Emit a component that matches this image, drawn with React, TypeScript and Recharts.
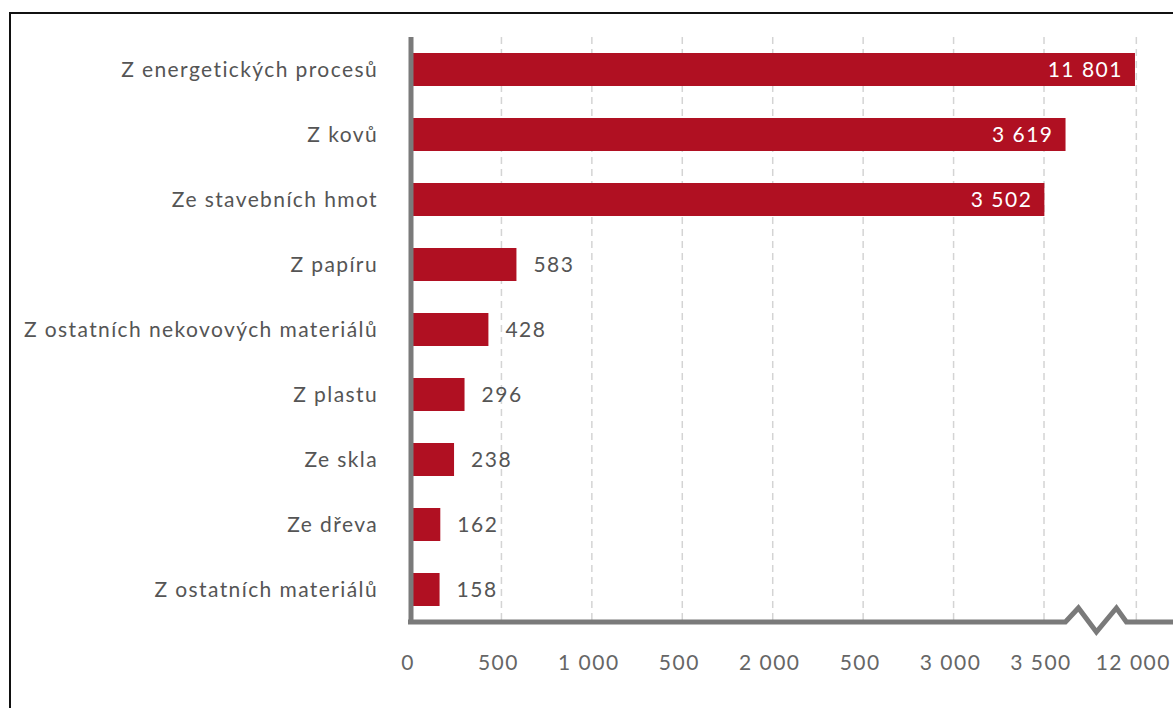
import { BarChart, Bar, XAxis, YAxis, CartesianGrid, LabelList, ReferenceLine } from "recharts";

// Zdroje emisí
const categories = [
  "Z energetických procesů",
  "Z kovů",
  "Ze stavebních hmot",
  "Z papíru",
  "Z ostatních nekovových materiálů",
  "Z plastu",
  "Ze skla",
  "Ze dřeva",
  "Z ostatních materiálů",
];
const values = [11801, 3619, 3502, 583, 428, 296, 238, 162, 158];

// osa X s přerušením: lineárně do 3 700, nad tím stlačeno
const tickValues = [0, 500, 1000, 1500, 2000, 2500, 3000, 3500, 12000];
const tickLabels = ["0", "500", "1 000", "500", "2 000", "500", "3 000", "3 500", "12 000"];
const BREAK_FROM = 3700;
const BREAK_SCALE = 0.0374;
const BREAK_MARK = 6100; // kde se kreslí klikatá značka

const compress = (v: number) => (v <= BREAK_FROM ? v : BREAK_FROM + (v - BREAK_FROM) * BREAK_SCALE);
const fmt = (v: number) => String(v).replace(/\B(?=(\d{3})+(?!\d))/g, " ");

const data = categories.map((name, i) => ({ name, raw: values[i], pos: compress(values[i]) }));

const FONT = "Lato, 'Noto Sans', sans-serif";
const RED = "#b01022";
const AXIS = "#7a7a7a";
const PLOT_LEFT = 411;
const CHART_W = 1200;

function ValueLabel(props: any) {
  const { x, y, width, height, value } = props;
  const inside = value > 3000;
  return (
    <text
      x={inside ? x + width - 12 : x + width + 17}
      y={y + height / 2}
      dy={7}
      textAnchor={inside ? "end" : "start"}
      fill={inside ? "#fff" : "#555"}
      fontSize={21}
      letterSpacing={1.5}
      fontFamily={FONT}
    >
      {fmt(value)}
    </text>
  );
}

// vodorovná osa včetně značky přerušení
function AxisWithBreak(props: any) {
  const { x1, y1, y2 } = props;
  const y = Math.max(y1, y2);
  const pts = [
    [PLOT_LEFT - 3, y],
    [x1 - 31, y],
    [x1 - 18, y - 14],
    [x1, y + 10],
    [x1 + 20, y - 14],
    [x1 + 30, y],
    [CHART_W, y],
  ];
  return (
    <polyline
      points={pts.map((p) => p.join(",")).join(" ")}
      fill="none"
      stroke={AXIS}
      strokeWidth={5}
      strokeLinejoin="miter"
    />
  );
}

export default function App() {
  return (
    <div
      style={{
        position: "fixed",
        left: 0,
        top: 0,
        width: 1173,
        height: 708,
        overflow: "hidden",
        background: "#fff",
      }}
    >
      <div
        style={{
          position: "absolute",
          left: 9,
          top: 12,
          width: 1300,
          height: 800,
          borderTop: "2px solid #111",
          borderLeft: "2px solid #111",
        }}
      />
      <div style={{ position: "absolute", left: 0, top: 0 }}>
        <BarChart
          width={CHART_W}
          height={708}
          data={data}
          layout="vertical"
          margin={{ top: 37, right: 0, bottom: 0, left: 0 }}
          barSize={33}
        >
          <CartesianGrid horizontal={false} stroke="#d4d4d4" strokeWidth={1.5} strokeDasharray="7 5" />
          <XAxis
            type="number"
            dataKey="pos"
            domain={[0, (CHART_W - PLOT_LEFT) / 0.18086]}
            ticks={tickValues.map(compress)}
            tickFormatter={(_v: number, i: number) => tickLabels[i]}
            interval={0}
            axisLine={false}
            tickLine={false}
            tickSize={0}
            tickMargin={33}
            height={86}
            allowDataOverflow
            tick={{ fill: "#666", fontSize: 21, letterSpacing: 1.5, fontFamily: FONT, dx: -3 }}
          />
          <YAxis
            type="category"
            dataKey="name"
            width={PLOT_LEFT}
            axisLine={{ stroke: AXIS, strokeWidth: 5 }}
            tickLine={false}
            tickSize={0}
            tickMargin={33}
            interval={0}
            tick={{ fill: "#555", fontSize: 21, letterSpacing: 1.4, fontFamily: FONT }}
          />
          <Bar dataKey="pos" fill={RED} isAnimationActive={false}>
            <LabelList dataKey="raw" content={ValueLabel} />
          </Bar>
          <ReferenceLine x={compress(BREAK_MARK)} stroke="none" shape={AxisWithBreak} />
        </BarChart>
      </div>
    </div>
  );
}
